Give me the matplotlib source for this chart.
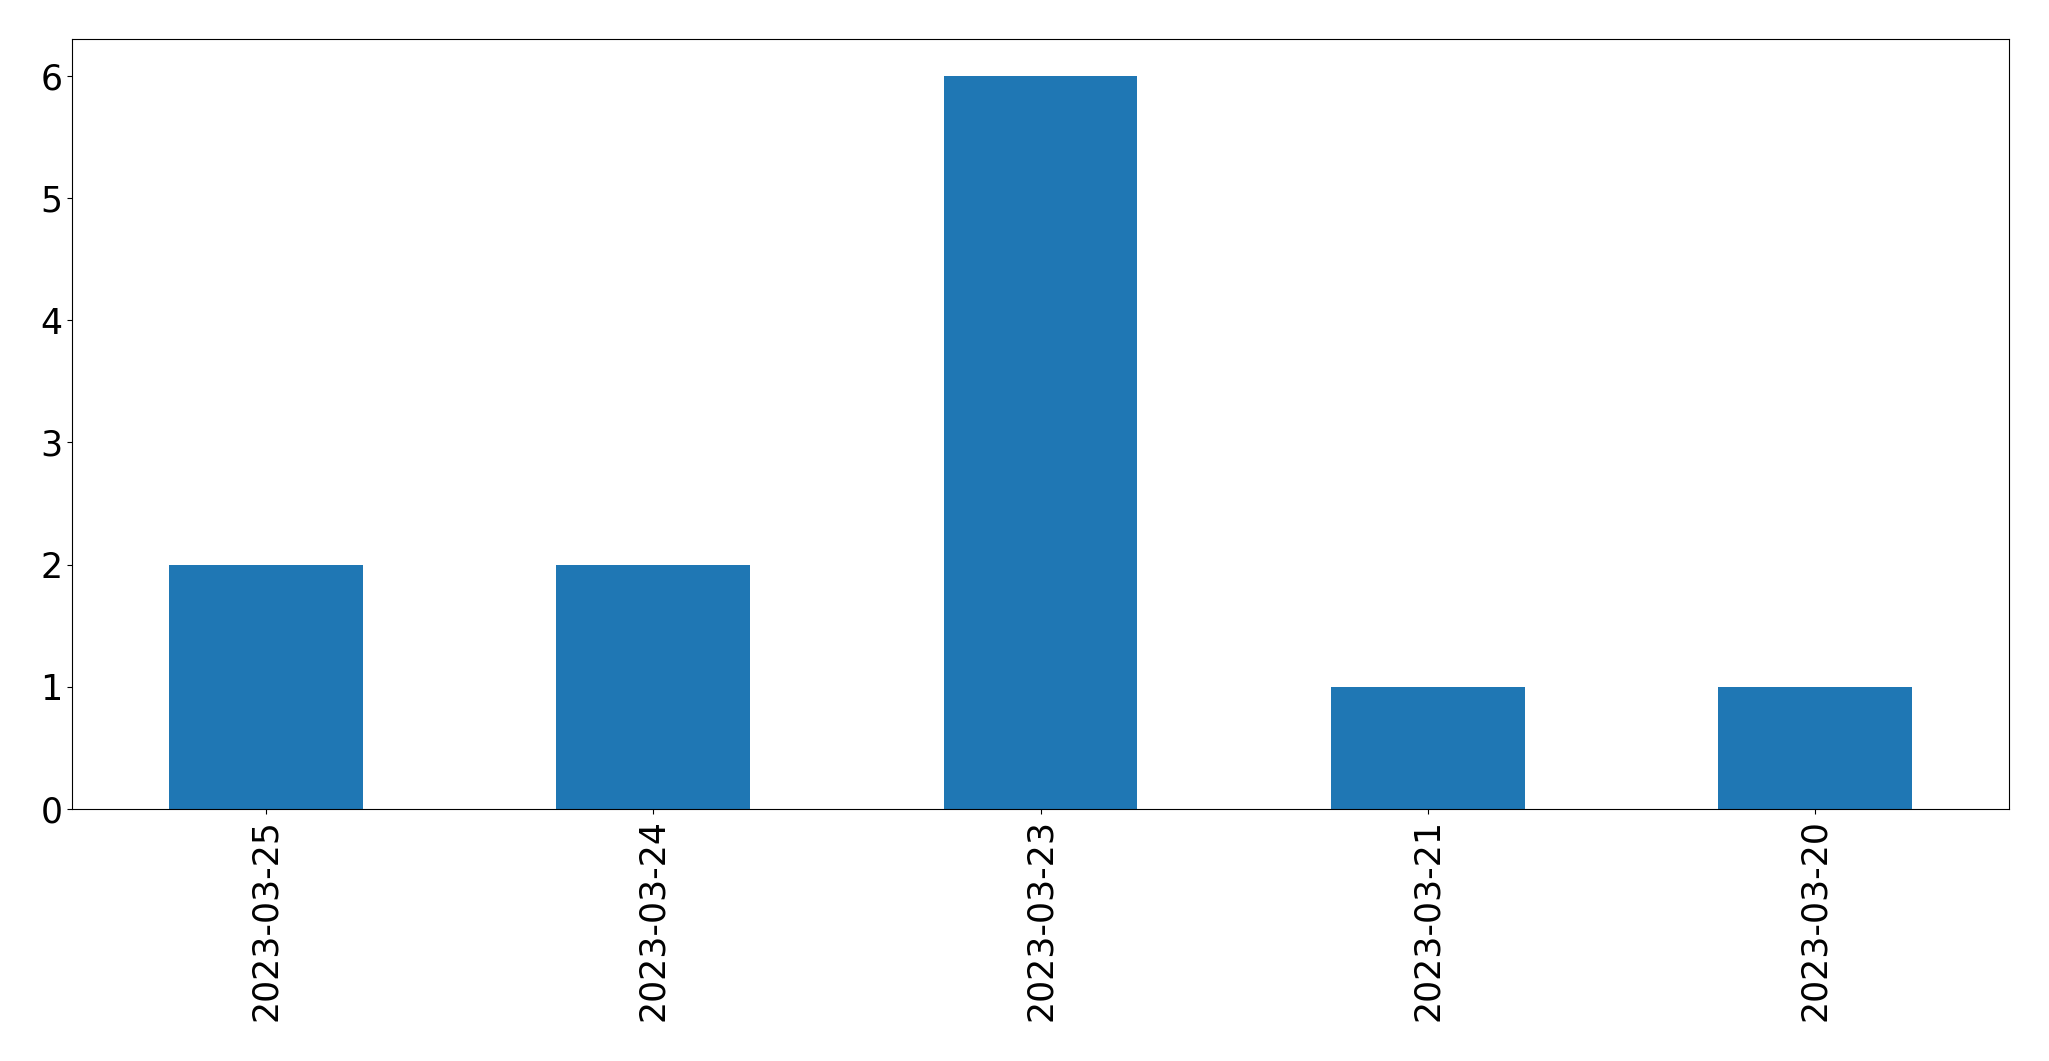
import matplotlib
matplotlib.use("Agg")
import matplotlib.pyplot as plt
import pandas as pd

# counts per day
dates = ["2023-03-25", "2023-03-24", "2023-03-23", "2023-03-21", "2023-03-20"]
counts = [2, 2, 6, 1, 1]

s = pd.Series(counts, index=dates)

fig = plt.figure(figsize=(20.49, 10.61), dpi=100)
ax = fig.add_axes([72 / 2049, 252 / 1061, 1937 / 2049, 770 / 1061])

s.plot(kind="bar", ax=ax, color="#1f77b4", fontsize=25)
ax.set_xticklabels(dates, rotation=90)

fig.savefig("out.png", dpi=100)
plt.close(fig)
